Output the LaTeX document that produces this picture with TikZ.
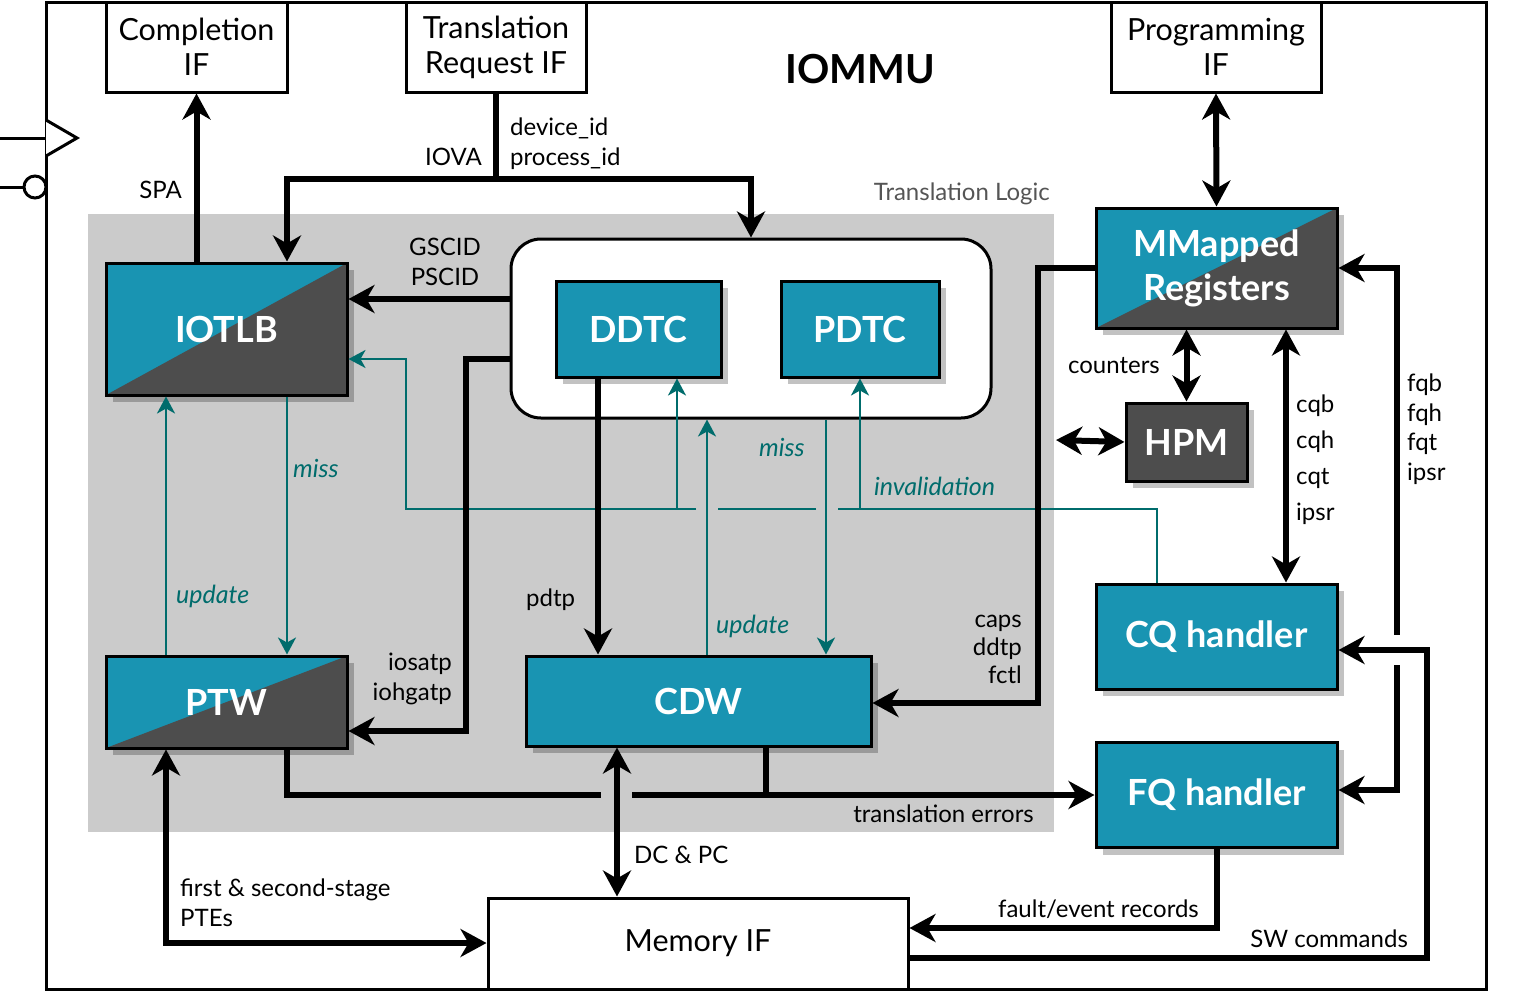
\documentclass[tikz,border=0pt]{standalone}
\usepackage{fontspec}
\setmainfont{Lato}
\usetikzlibrary{arrows.meta}
\usetikzlibrary{shadows}

\definecolor{boxteal}{RGB}{25,148,178}
\definecolor{boxdark}{RGB}{77,77,77}
\definecolor{logicgray}{RGB}{203,203,203}
\definecolor{ctlteal}{RGB}{0,108,108}
\definecolor{notegray}{RGB}{85,85,85}

\begin{document}
\begin{tikzpicture}[x=1pt, y=-1pt,
block/.style={draw=black, line width=3pt, fill=boxteal, text=white, font=\fontsize{36}{44}\selectfont\bfseries, align=center, inner sep=0, drop shadow={shadow xshift=7pt, shadow yshift=-7pt, opacity=.24, fill=black}},
splitblock/.style={block, path picture={\fill[boxdark] (path picture bounding box.south west) -- (path picture bounding box.north east) -- (path picture bounding box.south east) -- cycle;}},
darkblock/.style={block, fill=boxdark},
port/.style={draw=black, line width=3pt, fill=white, align=center, inner sep=0, font=\fontsize{30.5}{35}\selectfont},
bus/.style={line width=6pt, >={Stealth[length=26pt, width=28pt, inset=8pt]}},
ctl/.style={ctlteal, line width=2.5pt, >={Stealth[length=17pt, width=18pt, inset=5pt]}},
lbl/.style={inner sep=0, font=\fontsize{24}{30}\selectfont},
ctllbl/.style={inner sep=0, text=ctlteal, font=\fontsize{25}{30}\selectfont\itshape}]
\useasboundingbox (0,0) rectangle (1524,993);
\fill[logicgray] (88,214) rectangle (1054,832);
\draw[line width=3pt] (46,2) rectangle (1486,989);
\draw[line width=3pt] (0,138) -- (46,138);
\draw[line width=3pt, fill=white] (46,120) -- (77,138) -- (46,156);
\draw[line width=3pt] (0,187) -- (24,187);
\draw[line width=3pt, fill=white] (35,187) circle (11);
\node[port, minimum width=181pt, minimum height=90pt] (compif) at (196.5,47) {Completion\\IF};
\node[port, minimum width=180pt, minimum height=90pt] (reqif) at (496,47) {Translation\\Request IF};
\node[port, minimum width=210pt, minimum height=90pt] (progif) at (1216,47) {Programming\\IF};
\node[font=\fontsize{40}{50}\selectfont\bfseries, inner sep=0, anchor=base] (title) at (860,83) {IOMMU};
\node[lbl, text=notegray, anchor=base east] (logiclbl) at (1050,200) {Translation Logic};
\node[splitblock, minimum width=241pt, minimum height=132pt] (iotlb) at (226.5,329) {IOTLB};
\node[draw=black, line width=3pt, fill=white, rounded corners=30pt, minimum width=480pt, minimum height=179pt] (ctxcache) at (751,328.5) {};
\node[block, minimum width=165pt, minimum height=96pt] (ddtc) at (638.5,329) {DDTC};
\node[block, minimum width=158pt, minimum height=96pt] (pdtc) at (860,329) {PDTC};
\node[splitblock, minimum width=241pt, minimum height=92pt] (ptw) at (226.5,702) {PTW};
\node[block, minimum width=345pt, minimum height=90pt] (cdw) at (698.5,701) {CDW};
\node[splitblock, minimum width=241pt, minimum height=120pt] (mmreg) at (1216.5,268) {MMapped\\Registers};
\node[darkblock, minimum width=121pt, minimum height=78pt] (hpm) at (1186.5,442) {HPM};
\node[block, minimum width=241pt, minimum height=105pt] (cqh) at (1216.5,636.5) {CQ handler};
\node[block, minimum width=241pt, minimum height=105pt] (fqh) at (1216.5,795) {FQ handler};
\node[port, minimum width=420pt, minimum height=91pt] (memif) at (698,943.5) {Memory IF};
\coordinate (reqfork) at (496,179);
\coordinate (hpmport) at (1056,440);
% invalidation and miss/update
\draw[ctl,->] (ptw.north -| 166,0) -- (iotlb.south -| 166,0);
\draw[ctl,->] (iotlb.south -| 287,0) -- (ptw.north -| 287,0);
\draw[ctl,->] (cdw.north -| 707,0) -- (ctxcache.south -| 707,0);
\draw[ctl,->] (ctxcache.south -| 826,0) -- (cdw.north -| 826,0);
\draw[ctl] (cqh.north -| 1157,0) |- (838,509);
\draw[ctl] (816,509) -- (718,509);
\draw[ctl,->] (696,509) -| (406,359) -- (iotlb.east |- 0,359);
\draw[ctl,->] (677,509) -- (ddtc.south -| 677,0);
\draw[ctl,->] (860,509) -- (pdtc.south -| 860,0);
\draw[bus,->] (iotlb.north -| compif.south) -- (compif.south);
\draw[bus,->] (reqif.south) -- (reqfork) -| (ctxcache.north);
\draw[bus,->] (reqfork) -| (iotlb.north -| 287,0);
\draw[bus,->] (ctxcache.west |- 0,299) -- (iotlb.east |- 0,299);
\draw[bus,->] (ctxcache.west |- 0,359) -| (466,731) -- (ptw.east |- 0,731);
\draw[bus,->] (ddtc.south -| 598,0) -- (cdw.north -| 598,0);
\draw[bus,<->] (cdw.south -| 617,0) -- (memif.north -| 617,0);
\draw[bus] (ptw.south -| 287,0) |- (601,795);
\draw[bus,->] (632,795) -- (fqh.west |- 0,795);
\draw[bus] (cdw.south -| 766,0) -- (766,795);
\draw[bus,<->] (ptw.south -| 166,0) |- (memif.west |- 0,943);
\draw[bus,->] (fqh.south -| 1217,0) |- (memif.east |- 0,928);
\draw[bus,->] (memif.east |- 0,958) -| (1427,650) -- (cqh.east |- 0,650);
\draw[bus,<->] (progif.south) -- (mmreg.north);
\draw[bus,->] (mmreg.west) -| (1038,703) -- (cdw.east |- 0,703);
\draw[bus,<->] (mmreg.south -| hpm.north) -- (hpm.north);
\draw[bus,<->] (hpm.west) -- (hpmport);
\draw[bus,<->] (mmreg.south -| 1286,0) -- (cqh.north -| 1286,0);
\draw[bus,<-] (mmreg.east) -| (1397,635);
\draw[bus,->] (1397,665) |- (fqh.east |- 0,790);
\node[lbl, anchor=base east] (spalbl) at (182,198) {SPA};
\node[lbl, anchor=base east] (iovalbl) at (482,165) {IOVA};
\node[lbl, anchor=base west, align=left] (idlbl) at (510,165) {device\_id\\process\_id};
\node[lbl, anchor=base, align=center] (cidlbl) at (445,285) {GSCID\\PSCID};
\node[ctllbl, anchor=base west] (missA) at (293,477) {miss};
\node[ctllbl, anchor=base west] (updA) at (176,603) {update};
\node[lbl, anchor=base east, align=right] (atplbl) at (452,700) {iosatp\\iohgatp};
\node[lbl, anchor=base west] (pdtplbl) at (526,606) {pdtp};
\node[ctllbl, anchor=base west] (updB) at (716,633) {update};
\node[ctllbl, anchor=base west] (missB) at (759,456) {miss};
\node[ctllbl, anchor=base west] (invlbl) at (874,495) {invalidation};
\node[lbl, anchor=base east, align=right, font=\fontsize{24}{28}\selectfont] (capslbl) at (1022,683) {caps\\ddtp\\fctl};
\node[lbl, anchor=base east] (errlbl) at (1034,822) {translation errors};
\node[lbl, anchor=base west] (dcpclbl) at (634,863) {DC \& PC};
\node[lbl, anchor=base west, align=left] (ptelbl) at (180,926) {first \& second-stage\\PTEs};
\node[lbl, anchor=base east] (recslbl) at (1199,917) {fault/event records};
\node[lbl, anchor=base east] (swlbl) at (1408,947) {SW commands};
\node[lbl, anchor=base east] (cntlbl) at (1160,373) {counters};
\node[lbl, anchor=base west, align=left, font=\fontsize{24}{36}\selectfont] (cqlbl) at (1296,520) {cqb\\cqh\\cqt\\ipsr};
\node[lbl, anchor=base west, align=left, font=\fontsize{24}{29.5}\selectfont] (fqlbl) at (1407,480) {fqb\\fqh\\fqt\\ipsr};
\end{tikzpicture}
\end{document}
